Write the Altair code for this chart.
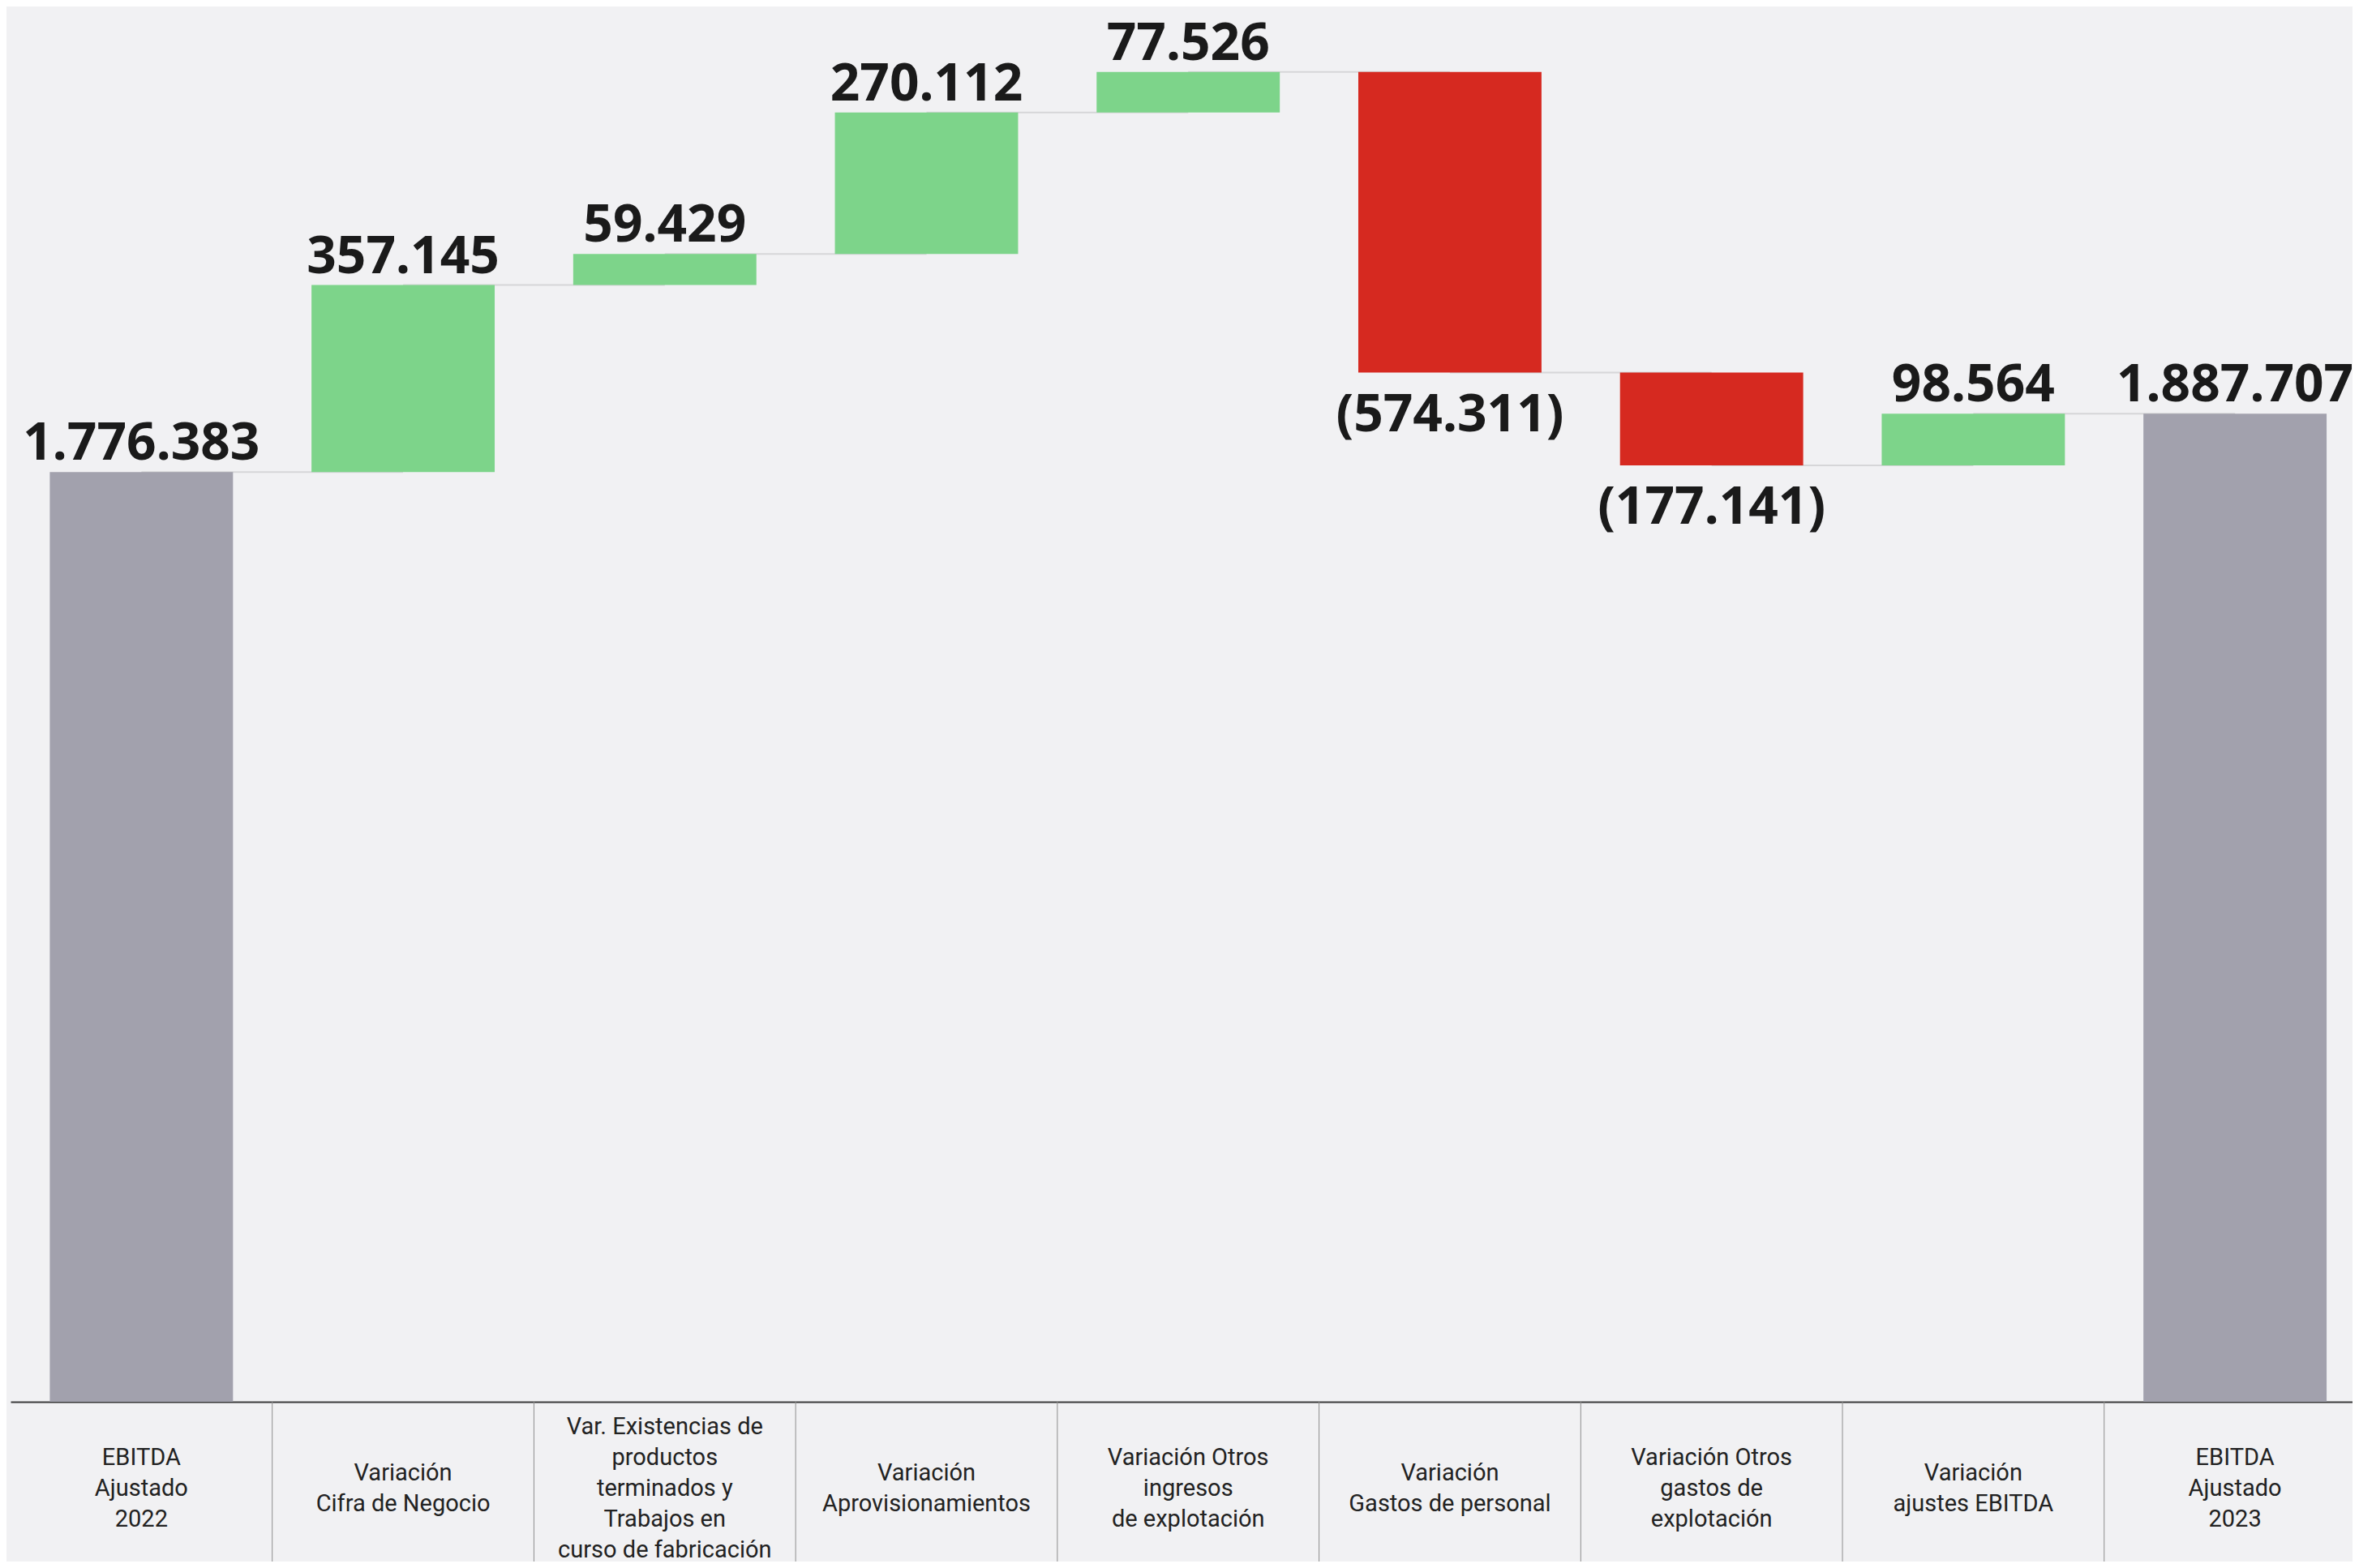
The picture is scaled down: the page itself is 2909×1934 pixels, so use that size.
import altair as alt
import pandas as pd

# ---- data ----
categories = [
    "EBITDA\nAjustado\n2022",
    "Variación\nCifra de Negocio",
    "Var. Existencias de\nproductos\nterminados y\nTrabajos en\ncurso de fabricación",
    "Variación\nAprovisionamientos",
    "Variación Otros\ningresos\nde explotación",
    "Variación\nGastos de personal",
    "Variación Otros\ngastos de\nexplotación",
    "Variación\najustes EBITDA",
    "EBITDA\nAjustado\n2023",
]
values = [1776383, 357145, 59429, 270112, 77526, -574311, -177141, 98564, 1887707]
kinds = ["total", "up", "up", "up", "up", "down", "down", "up", "total"]
value_labels = ["1.776.383", "357.145", "59.429", "270.112", "77.526",
                "(574.311)", "(177.141)", "98.564", "1.887.707"]

# ---- build waterfall table ----
rows = []
running = 0
for i, (c, v, k, lab) in enumerate(zip(categories, values, kinds, value_labels)):
    if k == "total":
        start, end = 0, v
    else:
        start, end = running, running + v
    running = end
    rows.append(dict(pos=i, xl=i - 0.35, xr=i + 0.35, cat=c, start=start,
                     end=end, kind=k, label=lab, nlines=c.count("\n") + 1))
df = pd.DataFrame(rows)

conn = pd.DataFrame([
    dict(cx1=r["pos"], cx2=r["pos"] + 1, level=r["end"])
    for r in rows[:-1]
])
seps = pd.DataFrame({"sep": [i + 0.5 for i in range(len(categories) - 1)]})

W, H = 2888, 1716
LINE_H = 38
xscale = alt.Scale(domain=[-0.5, 8.449], nice=False, zero=False)
yscale = alt.Scale(domain=[0, 2658000], nice=False)

xaxis = alt.Axis(labels=False, ticks=False, grid=False, title=None,
                 domainColor="#3a3a3a", domainWidth=2)

connectors = alt.Chart(conn).mark_rule(color="#d6d6d8", strokeWidth=2).encode(
    x=alt.X("cx1:Q", scale=xscale, axis=xaxis),
    x2="cx2:Q",
    y=alt.Y("level:Q", scale=yscale, axis=None),
)

bars = alt.Chart(df).mark_bar().encode(
    x=alt.X("xl:Q", scale=xscale, axis=xaxis),
    x2="xr:Q",
    y=alt.Y("start:Q", scale=yscale, axis=None),
    y2="end:Q",
    color=alt.Color("kind:N", legend=None,
                    scale=alt.Scale(domain=["total", "up", "down"],
                                    range=["#a2a1ad", "#7dd48a", "#d62920"])),
)

lab_up = alt.Chart(df).transform_filter("datum.kind != 'down'").mark_text(
    dy=-15, baseline="alphabetic", align="center", fontSize=64,
    fontWeight="bold", font="Noto Sans", color="#1a1a1a"
).encode(
    x=alt.X("pos:Q", scale=xscale, axis=xaxis),
    y=alt.Y("end:Q", scale=yscale, axis=None),
    text="label:N",
)

lab_down = alt.Chart(df).transform_filter("datum.kind == 'down'").mark_text(
    dy=72, baseline="alphabetic", align="center", fontSize=64,
    fontWeight="bold", font="Noto Sans", color="#1a1a1a"
).encode(
    x=alt.X("pos:Q", scale=xscale, axis=xaxis),
    y=alt.Y("end:Q", scale=yscale, axis=None),
    text="label:N",
)

separators = alt.Chart(seps).mark_rule(color="#8e8e8e", strokeWidth=1).encode(
    x=alt.X("sep:Q", scale=xscale, axis=xaxis),
    y=alt.value(H),
    y2=alt.value(H + 210),
)

cat_layers = []
for n in sorted(df["nlines"].unique()):
    cat_layers.append(
        alt.Chart(df).transform_filter(f"datum.nlines == {int(n)}").mark_text(
            lineBreak="\n", baseline="middle", align="center", fontSize=29,
            lineHeight=LINE_H, font="Roboto", color="#222222"
        ).encode(
            x=alt.X("pos:Q", scale=xscale, axis=xaxis),
            y=alt.value(H + 107 - (int(n) - 1) * LINE_H / 2),
            text="cat:N",
        )
    )

chart = alt.layer(connectors, bars, lab_up, lab_down, separators, *cat_layers).properties(
    width=W, height=H,
    autosize=alt.AutoSizeParams(type="none"),
    padding={"left": 5, "top": 5, "right": 0, "bottom": 197},
    background="#f1f1f3",
).configure_view(strokeWidth=0, fill="#f1f1f3")

chart.save("out.html", embed_options={"renderer": "svg", "actions": False})
